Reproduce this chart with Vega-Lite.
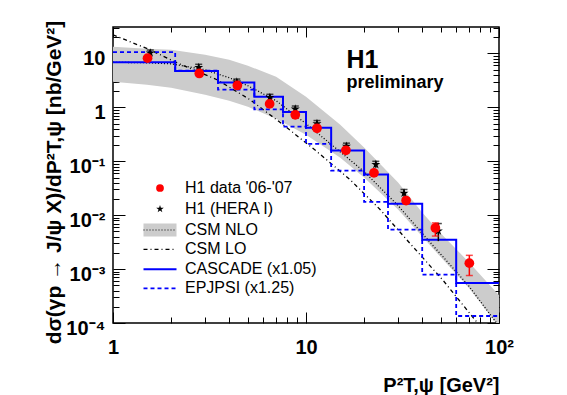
{
  "$schema": "https://vega.github.io/schema/vega-lite/v6.json",
  "width": 386,
  "height": 296,
  "autosize": "none",
  "padding": {"left": 113, "top": 27, "right": 68, "bottom": 72},
  "background": "white",
  "config": {
    "font": "Liberation Sans",
    "view": {"stroke": "black", "strokeWidth": 1.5},
    "axis": {"domain": false, "grid": false, "tickColor": "black", "tickWidth": 1, "labelColor": "black", "titleColor": "black"},
    "legend": {"title": null, "orient": "none", "padding": 0, "labelFont": "Liberation Sans", "labelFontSize": 16, "labelColor": "black", "symbolOpacity": 1}
  },
  "datasets": {
    "nlo": [
      {"x": 1, "lo": 2.99, "c": 6.87, "hi": 13.3},
      {"x": 1.5, "lo": 2.63, "c": 6.73, "hi": 12.2},
      {"x": 2, "lo": 2.32, "c": 6.44, "hi": 11.7},
      {"x": 3, "lo": 1.72, "c": 4.99, "hi": 9.46},
      {"x": 4, "lo": 1.33, "c": 3.55, "hi": 7.64},
      {"x": 5, "lo": 1.03, "c": 2.52, "hi": 5.92},
      {"x": 7, "lo": 0.618, "c": 1.33, "hi": 3.71},
      {"x": 10, "lo": 0.312, "c": 0.499, "hi": 1.58},
      {"x": 15, "lo": 0.117, "c": 0.151, "hi": 0.479},
      {"x": 20, "lo": 0.0499, "c": 0.0644, "hi": 0.18},
      {"x": 30, "lo": 0.0128, "c": 0.0151, "hi": 0.0404},
      {"x": 40, "lo": 0.00404, "c": 0.00458, "hi": 0.0112},
      {"x": 50, "lo": 0.00165, "c": 0.00187, "hi": 0.00458},
      {"x": 70, "lo": 0.00044, "c": 0.000478, "hi": 0.00133},
      {"x": 100, "lo": 0.000085, "c": 0.0000869, "hi": 0.000326}
    ],
    "csmlo": [
      {"x": 1, "y": 22.2},
      {"x": 1.555, "y": 11.7},
      {"x": 2.145, "y": 6.73},
      {"x": 3.46, "y": 3.26},
      {"x": 5.13, "y": 1.39},
      {"x": 7.6, "y": 0.479},
      {"x": 11.4, "y": 0.151},
      {"x": 16.9, "y": 0.0458},
      {"x": 24.2, "y": 0.01277},
      {"x": 34.6, "y": 0.00299},
      {"x": 51.3, "y": 0.000618},
      {"x": 76.9, "y": 0.000103},
      {"x": 100, "y": 0.000032}
    ],
    "cascade": [
      {"x": 1, "y": 6.9}, {"x": 2.1, "y": 4.72}, {"x": 3.5, "y": 2.9}, {"x": 5.4, "y": 1.58},
      {"x": 7.6, "y": 0.82}, {"x": 10, "y": 0.42}, {"x": 13.5, "y": 0.158}, {"x": 20, "y": 0.057},
      {"x": 26.6, "y": 0.0163}, {"x": 40, "y": 0.0035}, {"x": 60, "y": 0.00055}, {"x": 100, "y": 0.00055}
    ],
    "epjpsi": [
      {"x": 1, "y": 10.6}, {"x": 2.1, "y": 4.78}, {"x": 3.5, "y": 2.13}, {"x": 5.4, "y": 0.92},
      {"x": 7.6, "y": 0.44}, {"x": 10, "y": 0.21}, {"x": 13.5, "y": 0.067}, {"x": 20, "y": 0.0177},
      {"x": 26.6, "y": 0.0054}, {"x": 40, "y": 0.00079}, {"x": 60, "y": 0.000135}, {"x": 100, "y": 0.000135}
    ],
    "hera": [
      {"x": 1.56, "y": 10.2, "lo": 9.0, "hi": 11.6},
      {"x": 2.78, "y": 5.5, "lo": 4.9, "hi": 6.3},
      {"x": 4.38, "y": 2.95, "lo": 2.6, "hi": 3.35},
      {"x": 6.5, "y": 1.53, "lo": 1.35, "hi": 1.75},
      {"x": 8.8, "y": 0.93, "lo": 0.82, "hi": 1.06},
      {"x": 11.4, "y": 0.5, "lo": 0.44, "hi": 0.57},
      {"x": 16.2, "y": 0.19, "lo": 0.167, "hi": 0.217},
      {"x": 23.0, "y": 0.087, "lo": 0.076, "hi": 0.1},
      {"x": 32.2, "y": 0.0257, "lo": 0.022, "hi": 0.03},
      {"x": 48.5, "y": 0.0051, "lo": 0.0033, "hi": 0.007}
    ],
    "h1new": [
      {"x": 1.51, "y": 8.2, "lo": 7.5, "hi": 9.0},
      {"x": 2.8, "y": 4.26, "lo": 3.9, "hi": 4.65},
      {"x": 4.41, "y": 2.55, "lo": 2.33, "hi": 2.8},
      {"x": 6.48, "y": 1.16, "lo": 1.05, "hi": 1.28},
      {"x": 8.8, "y": 0.73, "lo": 0.66, "hi": 0.81},
      {"x": 11.4, "y": 0.41, "lo": 0.37, "hi": 0.45},
      {"x": 16.1, "y": 0.16, "lo": 0.145, "hi": 0.177},
      {"x": 22.5, "y": 0.061, "lo": 0.055, "hi": 0.068},
      {"x": 33.0, "y": 0.0187, "lo": 0.0165, "hi": 0.021},
      {"x": 46.8, "y": 0.0058, "lo": 0.0041, "hi": 0.0072},
      {"x": 70.2, "y": 0.00129, "lo": 0.00076, "hi": 0.0018}
    ],
    "labels": [
      {"x": 16.2, "y": 5.3, "label": "H1", "kind": "big"},
      {"x": 16.2, "y": 2.3, "label": "preliminary", "kind": "small"}
    ]
  },
  "layer": [
    {
      "data": {"name": "nlo"},
      "mark": {"type": "area", "clip": true, "opacity": 1},
      "encoding": {
        "x": {"field": "x", "type": "quantitative",
          "scale": {"type": "log", "domain": [1, 100], "nice": false},
          "axis": {"orient": "bottom", "values": [1, 10, 100], "tickSize": -11,
            "labelExpr": "datum.value > 50 ? '10²' : datum.value > 5 ? '10' : '1'",
            "labelFont": "Liberation Sans", "labelFontWeight": "bold", "labelFontSize": 20,
            "labelBaseline": "alphabetic", "labelPadding": 41, "labelFlush": false, "labelOverlap": false,
            "title": "P²T,ψ [GeV²]", "titleFont": "Liberation Sans", "titleFontSize": 20, "titleFontWeight": "bold",
            "titleX": 386, "titleY": 68, "titleAlign": "right", "titleAnchor": "end", "titleBaseline": "alphabetic"}},
        "y": {"field": "hi", "type": "quantitative",
          "scale": {"type": "log", "domain": [0.0001, 31], "nice": false},
          "axis": {"orient": "left", "values": [0.0001, 0.001, 0.01, 0.1, 1, 10], "tickSize": -12,
            "labelExpr": "datum.value > 5 ? '10' : datum.value > 0.5 ? '1' : datum.value > 0.05 ? '10⁻¹' : datum.value > 0.005 ? '10⁻²' : datum.value > 0.0005 ? '10⁻³' : '10⁻⁴'",
            "labelFont": "Liberation Sans", "labelFontWeight": "bold", "labelFontSize": 20,
            "labelAlign": "right", "labelBaseline": "alphabetic", "labelOffset": 11, "labelPadding": 20,
            "labelFlush": false, "labelOverlap": false,
            "title": "dσ(γp → J/ψ X)/dP²T,ψ [nb/GeV²]", "titleFont": "Liberation Sans", "titleFontSize": 21,
            "titleFontWeight": "bold", "titleX": -53, "titleY": 155, "titleAngle": -90,
            "titleAlign": "center", "titleBaseline": "alphabetic"}},
        "y2": {"field": "lo"},
        "color": {"datum": "CSM NLO", "type": "nominal",
          "scale": {"domain": ["CSM NLO"], "range": ["#cccccc"]},
          "legend": {"legendX": 30.5, "legendY": 186.5, "symbolType": "M-1,-0.4H1V0.4H-1Z", "symbolSize": 1089,
            "symbolStrokeWidth": 0, "symbolFillColor": "#cccccc", "symbolStrokeColor": "transparent", "labelOffset": 8.5}}
      }
    },
    {
      "data": {"name": "nlo"},
      "mark": {"type": "line", "clip": true, "strokeWidth": 1.3, "strokeDash": [1, 2]},
      "encoding": {
        "x": {"field": "x", "type": "quantitative", "scale": {"type": "log", "domain": [1, 100], "nice": false},
          "axis": {"orient": "bottom", "values": [2, 3, 4, 5, 6, 7, 8, 9, 20, 30, 40, 50, 60, 70, 80, 90], "tickSize": -6, "labels": false, "title": null}},
        "y": {"field": "c", "type": "quantitative", "scale": {"type": "log", "domain": [0.0001, 31], "nice": false},
          "axis": {"orient": "left", "values": [0.0002, 0.0003, 0.0004, 0.0005, 0.0006, 0.0007, 0.0008, 0.0009, 0.002, 0.003, 0.004, 0.005, 0.006, 0.007, 0.008, 0.009, 0.02, 0.03, 0.04, 0.05, 0.06, 0.07, 0.08, 0.09, 0.2, 0.3, 0.4, 0.5, 0.6, 0.7, 0.8, 0.9, 2, 3, 4, 5, 6, 7, 8, 9, 20, 30], "tickSize": -6, "labels": false, "title": null}},
        "color": {"datum": "CSM NLO", "type": "nominal",
          "scale": {"domain": ["CSM NLO"], "range": ["#000000"]},
          "legend": {"legendX": 29.5, "legendY": 185.5, "symbolType": "stroke", "symbolSize": 1089,
            "symbolStrokeWidth": 1.2, "symbolDash": [1, 2], "symbolStrokeColor": "black", "labelColor": "transparent", "labelOffset": 7.5}}
      }
    },
    {
      "data": {"name": "csmlo"},
      "mark": {"type": "line", "clip": true, "strokeWidth": 1.3, "strokeDash": [4, 3, 1, 3]},
      "encoding": {
        "x": {"field": "x", "type": "quantitative", "scale": {"type": "log", "domain": [1, 100], "nice": false},
          "axis": {"orient": "top", "values": [1, 10, 100], "tickSize": -10, "labels": false, "title": null}},
        "y": {"field": "y", "type": "quantitative", "scale": {"type": "log", "domain": [0.0001, 31], "nice": false},
          "axis": {"orient": "right", "values": [0.0001, 0.001, 0.01, 0.1, 1, 10], "tickSize": -12, "labels": false, "title": null}},
        "color": {"datum": "CSM LO", "type": "nominal",
          "scale": {"domain": ["CSM LO"], "range": ["#000000"]},
          "legend": {"legendX": 29.5, "legendY": 204.8, "symbolType": "stroke", "symbolSize": 1089,
            "symbolStrokeWidth": 1.2, "symbolDash": [4, 3, 1, 3], "symbolStrokeColor": "black", "labelOffset": 7.5}}
      }
    },
    {
      "data": {"name": "epjpsi"},
      "mark": {"type": "line", "clip": true, "interpolate": "step-after", "strokeWidth": 1.8, "strokeDash": [4, 3]},
      "encoding": {
        "x": {"field": "x", "type": "quantitative", "scale": {"type": "log", "domain": [1, 100], "nice": false},
          "axis": {"orient": "top", "values": [2, 3, 4, 5, 6, 7, 8, 9, 20, 30, 40, 50, 60, 70, 80, 90], "tickSize": -5, "labels": false, "title": null}},
        "y": {"field": "y", "type": "quantitative", "scale": {"type": "log", "domain": [0.0001, 31], "nice": false},
          "axis": {"orient": "right", "values": [0.0002, 0.0003, 0.0004, 0.0005, 0.0006, 0.0007, 0.0008, 0.0009, 0.002, 0.003, 0.004, 0.005, 0.006, 0.007, 0.008, 0.009, 0.02, 0.03, 0.04, 0.05, 0.06, 0.07, 0.08, 0.09, 0.2, 0.3, 0.4, 0.5, 0.6, 0.7, 0.8, 0.9, 2, 3, 4, 5, 6, 7, 8, 9, 20, 30], "tickSize": -6, "labels": false, "title": null}},
        "color": {"datum": "EPJPSI (x1.25)", "type": "nominal",
          "scale": {"domain": ["EPJPSI (x1.25)"], "range": ["#0000ff"]},
          "legend": {"legendX": 29.5, "legendY": 243.8, "symbolType": "stroke", "symbolSize": 1089,
            "symbolStrokeWidth": 1.8, "symbolDash": [4, 3], "symbolStrokeColor": "#0000ff", "labelOffset": 7.5}}
      }
    },
    {
      "data": {"name": "cascade"},
      "mark": {"type": "line", "clip": true, "interpolate": "step-after", "strokeWidth": 2},
      "encoding": {
        "x": {"field": "x", "type": "quantitative", "scale": {"type": "log", "domain": [1, 100], "nice": false}, "axis": null},
        "y": {"field": "y", "type": "quantitative", "scale": {"type": "log", "domain": [0.0001, 31], "nice": false}, "axis": null},
        "color": {"datum": "CASCADE (x1.05)", "type": "nominal",
          "scale": {"domain": ["CASCADE (x1.05)"], "range": ["#0000ff"]},
          "legend": {"legendX": 29.5, "legendY": 224.8, "symbolType": "stroke", "symbolSize": 1089,
            "symbolStrokeWidth": 2, "symbolStrokeColor": "#0000ff", "labelOffset": 7.5}}
      }
    },
    {
      "data": {"name": "hera"},
      "mark": {"type": "rule", "color": "black", "strokeWidth": 1.5},
      "encoding": {
        "x": {"field": "x", "type": "quantitative", "scale": {"type": "log", "domain": [1, 100], "nice": false}, "axis": null},
        "y": {"field": "lo", "type": "quantitative", "scale": {"type": "log", "domain": [0.0001, 31], "nice": false}, "axis": null},
        "y2": {"field": "hi"}
      }
    },
    {
      "data": {"name": "hera"},
      "mark": {"type": "tick", "orient": "horizontal", "color": "black", "size": 7, "thickness": 1.5},
      "encoding": {
        "x": {"field": "x", "type": "quantitative", "scale": {"type": "log", "domain": [1, 100], "nice": false}, "axis": null},
        "y": {"field": "hi", "type": "quantitative", "scale": {"type": "log", "domain": [0.0001, 31], "nice": false}, "axis": null}
      }
    },
    {
      "data": {"name": "hera"},
      "mark": {"type": "point", "shape": "M0,-1L0.225,-0.309L0.951,-0.309L0.363,0.118L0.588,0.809L0,0.382L-0.588,0.809L-0.363,0.118L-0.951,-0.309L-0.225,-0.309Z", "filled": true, "size": 90, "opacity": 1},
      "encoding": {
        "x": {"field": "x", "type": "quantitative", "scale": {"type": "log", "domain": [1, 100], "nice": false}, "axis": null},
        "y": {"field": "y", "type": "quantitative", "scale": {"type": "log", "domain": [0.0001, 31], "nice": false}, "axis": null},
        "color": {"datum": "H1 (HERA I)", "type": "nominal",
          "scale": {"domain": ["H1 (HERA I)"], "range": ["#000000"]},
          "legend": {"legendX": 39, "legendY": 174, "symbolType": "M0,-1L0.225,-0.309L0.951,-0.309L0.363,0.118L0.588,0.809L0,0.382L-0.588,0.809L-0.363,0.118L-0.951,-0.309L-0.225,-0.309Z", "symbolSize": 64,
            "symbolFillColor": "black", "labelOffset": 17}}
      }
    },
    {
      "data": {"name": "h1new"},
      "mark": {"type": "rule", "color": "red", "strokeWidth": 1.5},
      "encoding": {
        "x": {"field": "x", "type": "quantitative", "scale": {"type": "log", "domain": [1, 100], "nice": false}, "axis": null},
        "y": {"field": "lo", "type": "quantitative", "scale": {"type": "log", "domain": [0.0001, 31], "nice": false}, "axis": null},
        "y2": {"field": "hi"}
      }
    },
    {
      "data": {"name": "h1new"},
      "mark": {"type": "tick", "orient": "horizontal", "color": "red", "size": 7, "thickness": 1.5},
      "encoding": {
        "x": {"field": "x", "type": "quantitative", "scale": {"type": "log", "domain": [1, 100], "nice": false}, "axis": null},
        "y": {"field": "hi", "type": "quantitative", "scale": {"type": "log", "domain": [0.0001, 31], "nice": false}, "axis": null}
      }
    },
    {
      "data": {"name": "h1new"},
      "mark": {"type": "tick", "orient": "horizontal", "color": "red", "size": 7, "thickness": 1.5},
      "encoding": {
        "x": {"field": "x", "type": "quantitative", "scale": {"type": "log", "domain": [1, 100], "nice": false}, "axis": null},
        "y": {"field": "lo", "type": "quantitative", "scale": {"type": "log", "domain": [0.0001, 31], "nice": false}, "axis": null}
      }
    },
    {
      "data": {"name": "h1new"},
      "mark": {"type": "point", "shape": "circle", "filled": true, "size": 95, "opacity": 1},
      "encoding": {
        "x": {"field": "x", "type": "quantitative", "scale": {"type": "log", "domain": [1, 100], "nice": false}, "axis": null},
        "y": {"field": "y", "type": "quantitative", "scale": {"type": "log", "domain": [0.0001, 31], "nice": false}, "axis": null},
        "color": {"datum": "H1 data '06-'07", "type": "nominal",
          "scale": {"domain": ["H1 data '06-'07"], "range": ["#ff0000"]},
          "legend": {"legendX": 39, "legendY": 153, "symbolType": "circle", "symbolSize": 60,
            "symbolFillColor": "red", "labelOffset": 17}}
      }
    },
    {
      "data": {"name": "labels"},
      "transform": [{"filter": "datum.kind == 'big'"}],
      "mark": {"type": "text", "font": "Liberation Sans", "fontWeight": "bold", "fontSize": 25, "align": "left", "baseline": "alphabetic", "color": "black"},
      "encoding": {
        "x": {"field": "x", "type": "quantitative", "scale": {"type": "log", "domain": [1, 100], "nice": false}, "axis": null},
        "y": {"field": "y", "type": "quantitative", "scale": {"type": "log", "domain": [0.0001, 31], "nice": false}, "axis": null},
        "text": {"field": "label"}
      }
    },
    {
      "data": {"name": "labels"},
      "transform": [{"filter": "datum.kind == 'small'"}],
      "mark": {"type": "text", "font": "Liberation Sans", "fontWeight": "bold", "fontSize": 18, "align": "left", "baseline": "alphabetic", "color": "black"},
      "encoding": {
        "x": {"field": "x", "type": "quantitative", "scale": {"type": "log", "domain": [1, 100], "nice": false}, "axis": null},
        "y": {"field": "y", "type": "quantitative", "scale": {"type": "log", "domain": [0.0001, 31], "nice": false}, "axis": null},
        "text": {"field": "label"}
      }
    }
  ],
  "resolve": {"scale": {"x": "shared", "y": "shared", "color": "independent"}, "axis": {"x": "independent", "y": "independent"}, "legend": {"color": "independent"}}
}
